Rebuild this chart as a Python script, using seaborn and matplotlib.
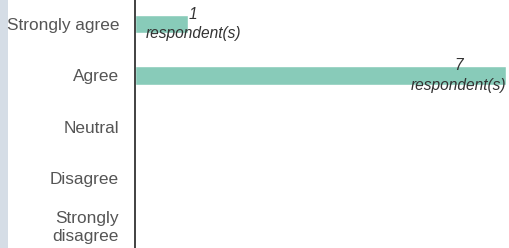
import matplotlib
matplotlib.use("Agg")
import matplotlib.pyplot as plt
import matplotlib.transforms as mtransforms
import seaborn as sns
import pandas as pd
from matplotlib.patches import Rectangle

categories = ["Strongly agree", "Agree", "Neutral", "Disagree", "Strongly disagree"]
tick_labels = ["Strongly agree", "Agree", "Neutral", "Disagree", "Strongly\ndisagree"]
counts = [1, 7, 0, 0, 0]

df = pd.DataFrame({"category": categories, "count": counts})

sns.set_style("white")
plt.rcParams["font.family"] = ["Liberation Sans", "DejaVu Sans"]

W, H = 509, 248
fig = plt.figure(figsize=(W / 100, H / 100), dpi=100)
ax = fig.add_axes([135 / W, 0, 1 - 135 / W, 1])

sns.barplot(data=df, x="count", y="category", order=categories, orient="h",
            color="#88cbb9", saturation=1, width=0.35, ax=ax)

ax.set_xlim(0, 374 / 53)
ax.set_ylim(4.35, -0.466)
ax.set_xlabel("")
ax.set_ylabel("")
ax.set_xticks([])
ax.set_yticks(range(len(categories)))
ax.set_yticklabels(tick_labels, fontsize=12.4, color="#555555", linespacing=1.2)
ax.tick_params(axis="y", length=0, pad=11.5)
for s in ["top", "right", "bottom"]:
    ax.spines[s].set_visible(False)
ax.spines["left"].set_color("#333333")
ax.spines["left"].set_linewidth(1.3)

# nudge two-line label up so it stays inside the figure
last = ax.get_yticklabels()[-1]
last.set_transform(last.get_transform() +
                   mtransforms.ScaledTranslation(0, 5 / 100, fig.dpi_scale_trans))

for i, v in enumerate(counts):
    if v > 0:
        x = min(v + 0.1, 6.1)
        ax.text(x, i, f"{v}\nrespondent(s)", ha="center", va="center",
                fontsize=11.2, style="italic", color="#333333", linespacing=1.4)

fig.patches.append(Rectangle((0, 0), 8 / W, 1, transform=fig.transFigure,
                             facecolor="#d5dde6", edgecolor="none", zorder=-1))

fig.savefig("out.png", dpi=100)
